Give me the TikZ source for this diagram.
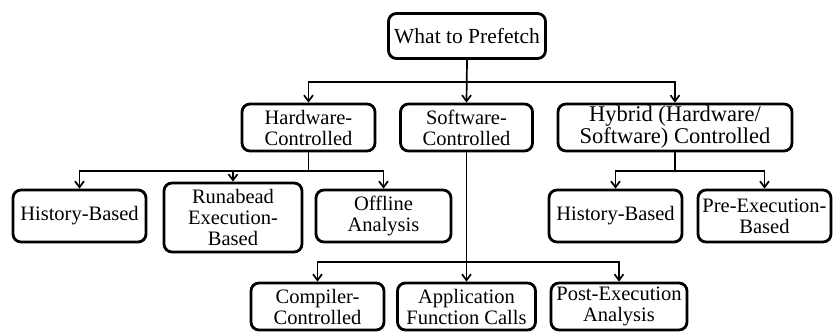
\documentclass[tikz,border=0pt]{standalone}
\usepackage{fontspec}
\setmainfont{Liberation Serif}
\usetikzlibrary{arrows.meta}
\begin{document}
\begin{tikzpicture}[x=1pt,y=-1pt,
  box/.style={draw, line width=2.8pt, rounded corners=8pt, inner sep=0pt, align=center,
    font=\fontsize{20.5}{21}\selectfont},
  conn/.style={line width=1.7pt},
  arr/.style={conn, -{Straight Barb[length=6pt,width=9pt]}}]
\useasboundingbox (0,0) rectangle (833,334);
% level 0
\node[box, minimum width=157pt, minimum height=45pt, font=\fontsize{21.5}{21}\selectfont] (root) at (467,36) {What to Prefetch};
% level 1
\node[box, minimum width=133pt, minimum height=47pt] (hw) at (308.5,127.5) {Hardware-\\Controlled};
\node[box, minimum width=132pt, minimum height=47pt] (sw) at (466.5,127.5) {Software-\\Controlled};
\node[box, minimum width=234pt, minimum height=47pt, font=\fontsize{22.5}{22}\selectfont] (hy) at (675,127.5) {Hybrid (Hardware/\\Software) Controlled};
% level 2 (hardware)
\node[box, minimum width=133pt, minimum height=52pt] (h1) at (79.5,216) {History-Based};
\node[box, minimum width=138pt, minimum height=69pt] (run) at (233,217.5) {Runabead\\Execution-\\Based};
\node[box, minimum width=135pt, minimum height=52pt] (off) at (383.5,216) {Offline\\Analysis};
% level 2 (hybrid)
\node[box, minimum width=133pt, minimum height=52pt] (h2) at (615.5,216) {History-Based};
\node[box, minimum width=133pt, minimum height=52pt] (pre) at (764.5,216) {Pre-Execution-\\Based};
% level 2 (software)
\node[box, minimum width=133pt, minimum height=47pt] (comp) at (317.5,306.5) {Compiler-\\Controlled};
\node[box, minimum width=138pt, minimum height=47pt] (app) at (466.5,306.5) {Application\\Function Calls};
\node[box, minimum width=136pt, minimum height=47pt] (post) at (619,306.5) {Post-Execution\\Analysis};
% junctions
\coordinate (j1) at (466.5,82);
\coordinate (j2) at (308.5,171);
\coordinate (j3) at (675,171);
\coordinate (j4) at (466.5,262);
% connectors
\draw[arr] (root.south) -- (sw.north);
\draw[arr] (j1) -| (hw.north);
\draw[arr] (j1) -| (hy.north);
\draw[conn] (hw.south) -- (j2);
\draw[arr] (j2) -| (h1.north);
\draw[arr] (j2) -| (off.north);
\draw[arr] (run.north |- j2) -- (run.north);
\draw[conn] (hy.south) -- (j3);
\draw[arr] (j3) -| (h2.north);
\draw[arr] (j3) -| (pre.north);
\draw[arr] (sw.south) -- (app.north);
\draw[arr] (j4) -| (comp.north);
\draw[arr] (j4) -| (post.north);
\end{tikzpicture}
\end{document}
